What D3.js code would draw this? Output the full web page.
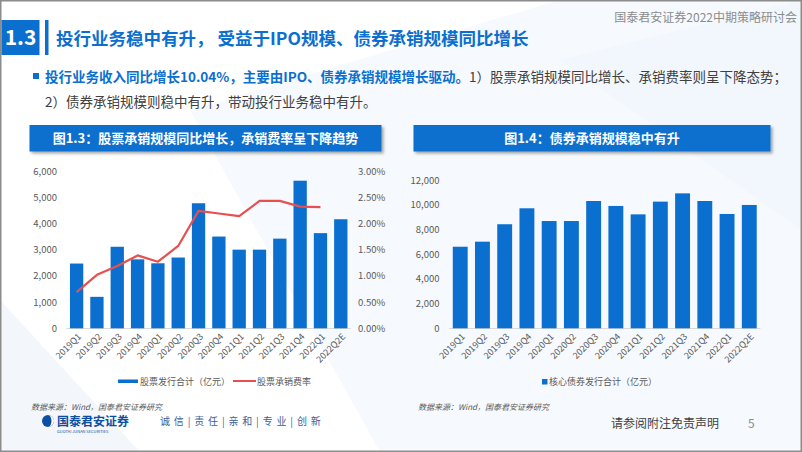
<!DOCTYPE html>
<html><head><meta charset="utf-8">
<script src="https://cdn.jsdelivr.net/npm/d3@7"></script>
<style>
html,body{margin:0;padding:0;background:#fff;}
svg{display:block;font-family:"Noto Sans CJK SC","Noto Sans",sans-serif;}
</style></head><body>
<svg id="c" width="802" height="452"></svg>
<script>
const categories = ["2019Q1","2019Q2","2019Q3","2019Q4","2020Q1","2020Q2","2020Q3","2020Q4","2021Q1","2021Q2","2021Q3","2021Q4","2022Q1","2022Q2E"];
const equityIssuance = [2470,1200,3110,2630,2480,2700,4770,3500,3000,3000,3420,5630,3630,4160];
const equityFeeRate = [0.0069,0.0102,0.0119,0.0139,0.0127,0.0157,0.0224,0.0219,0.0214,0.0243,0.0243,0.0232,0.0231,null];
const bondIssuance = [6600,7010,8420,9710,8680,8680,10300,9900,9220,10250,10920,10300,9250,9980];
const leftTicks = [0,1000,2000,3000,4000,5000,6000];
const rateTicks = [0,0.005,0.01,0.015,0.02,0.025,0.03];
const rightTicks = [0,2000,4000,6000,8000,10000,12000];

const BLUE = "#0B6FCF", RED = "#E8504F", GRAY = "#595959";
const svg = d3.select("#c");

// background decoration
svg.append("rect").attr("width",802).attr("height",452).attr("fill","#fff");
svg.append("path").attr("d","M190,110 L560,0 L802,0 L802,452 L380,452 Z").attr("fill","#F6F9FD");
svg.append("path").attr("d","M0,300 L140,452 L0,452 Z").attr("fill","#F3F7FC");
svg.append("path").attr("d","M560,60 L802,0 L802,230 Z").attr("fill","#F1F6FC").attr("opacity",0.7);

// frame
svg.append("rect").attr("x",0.75).attr("y",0.75).attr("width",800.5).attr("height",450.5)
  .attr("fill","none").attr("stroke","#8C8C8C").attr("stroke-width",1.5);

// header
svg.append("rect").attr("x",1.5).attr("y",20).attr("width",38).attr("height",35).attr("fill","#0A6FCF");
svg.append("text").attr("x",20.5).attr("y",45).attr("text-anchor","middle").attr("fill","#fff")
  .attr("font-size",21).attr("font-weight","bold").text("1.3");
svg.append("rect").attr("x",45).attr("y",20).attr("width",3.5).attr("height",35).attr("fill","#0A6FCF");
svg.append("text").attr("x",56).attr("y",44.5).attr("fill","#0A6FCF").attr("font-size",17.5).attr("font-weight","bold")
  .text("投行业务稳中有升， 受益于IPO规模、债券承销规模同比增长");
svg.append("text").attr("x",797).attr("y",22).attr("text-anchor","end").attr("fill","#8C8C8C")
  .attr("font-size",12).text("国泰君安证券2022中期策略研讨会");

// bullet text
svg.append("rect").attr("x",33).attr("y",73).attr("width",6).attr("height",6).attr("fill","#0A6FCF");
const t1 = svg.append("text").attr("x",45).attr("y",82).attr("font-size",13.5);
t1.append("tspan").attr("fill","#0A6FCF").attr("font-weight","bold").text("投行业务收入同比增长10.04%，主要由IPO、债券承销规模增长驱动。");
t1.append("tspan").attr("fill","#404040").text("1）股票承销规模同比增长、承销费率则呈下降态势；");
svg.append("text").attr("x",45).attr("y",107).attr("font-size",13.5).attr("fill","#404040")
  .text("2）债券承销规模则稳中有升，带动投行业务稳中有升。");

// chart title boxes
const defs = svg.append("defs");
const f = defs.append("filter").attr("id","sh").attr("x","-5%").attr("y","-20%").attr("width","110%").attr("height","160%");
f.append("feDropShadow").attr("dx",2).attr("dy",2).attr("stdDeviation",1.5).attr("flood-color","#000").attr("flood-opacity",0.35);
function titleBox(x,w,txt){
  svg.append("rect").attr("x",x).attr("y",125).attr("width",w).attr("height",26.5).attr("fill","#0A6FCF").attr("filter","url(#sh)");
  svg.append("text").attr("x",x+w/2).attr("y",143).attr("text-anchor","middle").attr("fill","#fff")
    .attr("font-size",13).attr("font-weight","bold").text(txt);
}
titleBox(29.5,352,"图1.3：股票承销规模同比增长，承销费率呈下降趋势");
titleBox(413.5,357,"图1.4：债券承销规模稳中有升");

// ---------- left chart ----------
const x1 = d3.scaleBand().domain(categories).range([66.5,350.9]).paddingInner(0.345).paddingOuter(0.17);
const yL = d3.scaleLinear().domain([0,6000]).range([328.3,171]);
const yR = d3.scaleLinear().domain([0,0.03]).range([328.3,171]);
const gL = svg.append("g");
gL.selectAll("text.yl").data(leftTicks).join("text").attr("class","yl")
  .attr("x",57).attr("y",d=>yL(d)+3.5).attr("text-anchor","end").attr("font-size",9.5).attr("fill",GRAY)
  .text(d=>d3.format(",")(d));
gL.selectAll("text.yr").data(rateTicks).join("text").attr("class","yr")
  .attr("x",358).attr("y",d=>yR(d)+3.5).attr("font-size",9.5).attr("fill",GRAY)
  .text(d=>d3.format(".2%")(d));
gL.append("line").attr("x1",66.5).attr("x2",350.9).attr("y1",328.5).attr("y2",328.5).attr("stroke","#D9D9D9");
gL.selectAll("rect.b").data(equityIssuance).join("rect").attr("class","b")
  .attr("x",(d,i)=>x1(categories[i])).attr("width",x1.bandwidth())
  .attr("y",d=>yL(d)).attr("height",d=>yL(0)-yL(d)).attr("fill",BLUE);
const lineData = equityFeeRate.map((v,i)=>({c:categories[i],v})).filter(d=>d.v!=null);
gL.append("path").datum(lineData).attr("fill","none").attr("stroke",RED).attr("stroke-width",2.2)
  .attr("stroke-linejoin","round")
  .attr("d",d3.line().x(d=>x1(d.c)+x1.bandwidth()/2).y(d=>yR(d.v)));
gL.selectAll("text.xl").data(categories).join("text").attr("class","xl")
  .attr("transform",d=>`translate(${x1(d)+x1.bandwidth()/2+3},${335}) rotate(-45)`)
  .attr("text-anchor","end").attr("dy","0.35em").attr("font-size",9).attr("fill",GRAY).text(d=>d);
// legend
gL.append("rect").attr("x",118).attr("y",379.5).attr("width",20).attr("height",3.5).attr("fill",BLUE);
gL.append("text").attr("x",140).attr("y",384.5).attr("font-size",9).attr("fill",GRAY).text("股票发行合计（亿元）");
gL.append("line").attr("x1",233).attr("x2",256).attr("y1",381).attr("y2",381).attr("stroke",RED).attr("stroke-width",2);
gL.append("text").attr("x",257).attr("y",384.5).attr("font-size",9).attr("fill",GRAY).text("股票承销费率");

// ---------- right chart ----------
const x2 = d3.scaleBand().domain(categories).range([449.1,760.4]).paddingInner(0.33).paddingOuter(0.165);
const y2 = d3.scaleLinear().domain([0,12000]).range([328.3,180]);
const gR = svg.append("g");
gR.selectAll("text.yl").data(rightTicks).join("text")
  .attr("x",439.5).attr("y",d=>y2(d)+3.5).attr("text-anchor","end").attr("font-size",9.5).attr("fill",GRAY)
  .text(d=>d3.format(",")(d));
gR.append("line").attr("x1",449).attr("x2",760.4).attr("y1",328.5).attr("y2",328.5).attr("stroke","#D9D9D9");
gR.selectAll("rect.b").data(bondIssuance).join("rect")
  .attr("x",(d,i)=>x2(categories[i])).attr("width",x2.bandwidth())
  .attr("y",d=>y2(d)).attr("height",d=>y2(0)-y2(d)).attr("fill",BLUE);
gR.selectAll("text.xl").data(categories).join("text")
  .attr("transform",d=>`translate(${x2(d)+x2.bandwidth()/2+3},${335}) rotate(-45)`)
  .attr("text-anchor","end").attr("dy","0.35em").attr("font-size",9).attr("fill",GRAY).text(d=>d);
gR.append("rect").attr("x",542).attr("y",379).attr("width",5.5).attr("height",5.5).attr("fill",BLUE);
gR.append("text").attr("x",549).attr("y",384.5).attr("font-size",9).attr("fill",GRAY).text("核心债券发行合计（亿元）");

// ---------- footer ----------
svg.append("text").attr("x",31).attr("y",410).attr("font-size",8).attr("font-style","italic").attr("fill","#595959")
  .text("数据来源：Wind，国泰君安证券研究");
svg.append("text").attr("x",418).attr("y",410).attr("font-size",8).attr("font-style","italic").attr("fill","#595959")
  .text("数据来源：Wind，国泰君安证券研究");
// logo
svg.append("circle").attr("cx",48).attr("cy",421).attr("r",6).attr("fill","#0B4EA2");
svg.append("path").attr("d","M48,415 A6,6 0 0 1 48,427 A3.5,6 0 0 0 48,415 Z").attr("fill","#fff");
svg.append("text").attr("x",57).attr("y",425.5).attr("font-size",12).attr("font-weight","bold").attr("fill","#0B4EA2")
  .text("国泰君安证券");
svg.append("text").attr("x",57).attr("y",433).attr("font-size",4).attr("fill","#0B4EA2").text("GUOTAI JUNAN SECURITIES");
svg.append("text").attr("x",160).attr("y",425).attr("font-size",10).attr("fill","#3A5F9A").attr("letter-spacing",0.8)
  .text("诚 信 | 责 任 | 亲 和 | 专 业 | 创 新");
svg.append("text").attr("x",611).attr("y",428).attr("font-size",12).attr("fill","#404040").text("请参阅附注免责声明");
svg.append("text").attr("x",748).attr("y",428).attr("font-size",12).attr("fill","#8C8C8C").text("5");
</script>
</body></html>
